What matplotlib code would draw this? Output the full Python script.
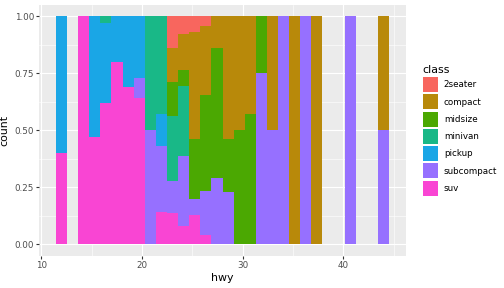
import numpy as np
import matplotlib
matplotlib.use('Agg')
import matplotlib.pyplot as plt
from matplotlib.patches import Patch

# hwy histogram, 30 bins, position = "fill"; shares
bin_lo, bin_hi, n_bins = 12, 44, 30

classes = ['2seater', 'compact', 'midsize', 'minivan', 'pickup', 'subcompact', 'suv']
colors = ['#F8665E', '#B8890A', '#4BA802', '#19B887', '#1AA6E6', '#9670FF', '#F945D3']

suv = [0.40, 0, 1.00, 0.47, 0.62, 0.80, 0.69, 0.64, 0, 0.14, 0.14, 0.08, 0.13, 0.04, 0,
       0, 0, 0, 0, 0, 0, 0, 0, 0, 0, 0, 0, 0, 0, 0]
subcompact = [0, 0, 0, 0, 0, 0, 0, 0.09, 0.50, 0.29, 0.14, 0.31, 0.07, 0.19, 0.29,
              0.23, 0, 0, 0.75, 0.50, 1.00, 0, 1.00, 0, 0, 0, 1.00, 0, 0, 0.50]
pickup = [0.60, 0, 0, 0.53, 0.35, 0.20, 0.31, 0.27, 0, 0.14, 0, 0, 0, 0, 0,
          0, 0, 0, 0, 0, 0, 0, 0, 0, 0, 0, 0, 0, 0, 0]
minivan = [0, 0, 0, 0, 0.03, 0, 0, 0, 0.50, 0.43, 0.29, 0.31, 0, 0, 0,
           0, 0, 0, 0, 0, 0, 0, 0, 0, 0, 0, 0, 0, 0, 0]
midsize = [0, 0, 0, 0, 0, 0, 0, 0, 0, 0, 0.15, 0.07, 0.26, 0.42, 0.57,
           0.23, 0.50, 0.57, 0.25, 0, 0, 0, 0, 0, 0, 0, 0, 0, 0, 0]
compact = [0, 0, 0, 0, 0, 0, 0, 0, 0, 0, 0.15, 0.16, 0.47, 0.30, 0.14,
           0.54, 0.50, 0.43, 0, 0.50, 0, 1.00, 0, 1.00, 0, 0, 0, 0, 0, 0.50]
twoseater = [0, 0, 0, 0, 0, 0, 0, 0, 0, 0, 0.14, 0.08, 0.07, 0.04, 0,
             0, 0, 0, 0, 0, 0, 0, 0, 0, 0, 0, 0, 0, 0, 0]

series = {'2seater': twoseater, 'compact': compact, 'midsize': midsize,
          'minivan': minivan, 'pickup': pickup, 'subcompact': subcompact, 'suv': suv}

width = (bin_hi - bin_lo) / (n_bins - 1)
centers = bin_lo + width * np.arange(n_bins)
total = np.sum([series[c] for c in classes], axis=0)
safe_total = np.where(total > 0, total, 1)

fig = plt.figure(figsize=(5.04, 2.88), dpi=100)
ax = fig.add_axes([0.078, 0.112, 0.727, 0.871])
ax.set_facecolor('#EBEBEB')

bottom = np.zeros(n_bins)
# ggplot stacks the first level on top, so draw from the last class upward
for cls, col in zip(classes[::-1], colors[::-1]):
    share = np.array(series[cls]) / safe_total
    ax.bar(centers, share, width=width, bottom=bottom, color=col,
           linewidth=0, antialiased=False, zorder=3)
    bottom += share

lo, hi = bin_lo - width / 2, bin_hi + width / 2
pad = (hi - lo) * 0.05
ax.set_xlim(lo - pad, hi + pad)
ax.set_ylim(-0.05, 1.05)

ax.set_xticks([10, 20, 30, 40])
ax.set_xticks([15, 25, 35, 45], minor=True)
ax.set_yticks([0, 0.25, 0.5, 0.75, 1.0])
ax.set_yticklabels(['0.00', '0.25', '0.50', '0.75', '1.00'])
ax.set_yticks([0.125, 0.375, 0.625, 0.875], minor=True)
ax.grid(True, which='major', color='white', linewidth=0.8, zorder=0)
ax.grid(True, which='minor', color='white', linewidth=0.4, zorder=0)
ax.set_axisbelow(True)
for s in ax.spines.values():
    s.set_visible(False)
ax.tick_params(which='major', length=2.2, width=0.8, color='#333333',
               labelcolor='#4D4D4D', labelsize=6.3, pad=1.5)
ax.tick_params(which='minor', length=0)

ax.set_xlabel('hwy', fontsize=7.9, color='black', labelpad=2)
ax.set_ylabel('count', fontsize=7.9, color='black', labelpad=4)

handles = [Patch(facecolor=c, edgecolor='none') for c in colors]
leg = fig.legend(handles, classes, title='class', loc='upper left',
                 bbox_to_anchor=(0.839, 0.775), frameon=False,
                 fontsize=6.3, title_fontsize=7.9, handlelength=1.7,
                 handleheight=2.26, labelspacing=0.26, handletextpad=0.7,
                 borderaxespad=0, borderpad=0, alignment='left')

fig.savefig('out.png', dpi=100)
